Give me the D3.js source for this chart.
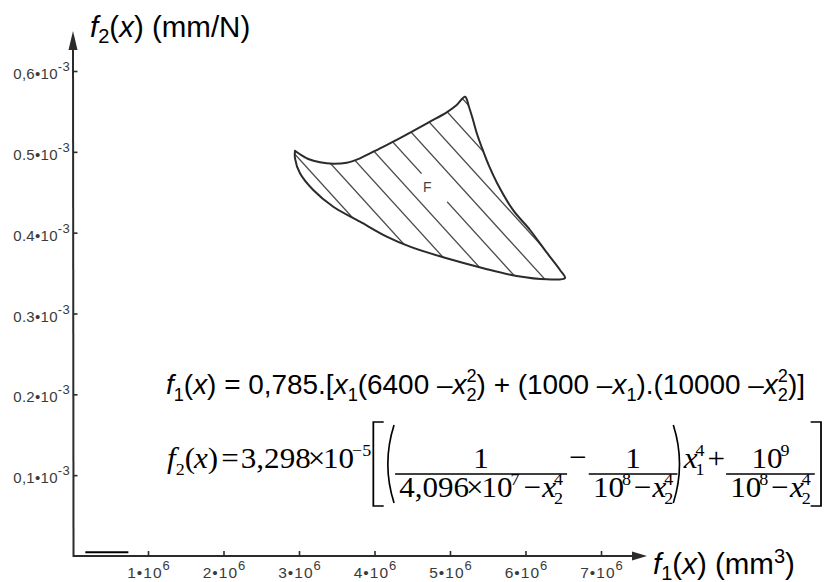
<!DOCTYPE html>
<html>
<head>
<meta charset="utf-8">
<script src="https://cdn.jsdelivr.net/npm/d3@7"></script>
<style>
  body { margin: 0; background: #fff; }
  svg { display: block; }
</style>
</head>
<body>
<svg id="chart" width="834" height="582"></svg>
<script>
// ---- axis ticks (f1 in 10^6 mm³, f2 in 10^-3 mm/N) ----
const f1Ticks = [1, 2, 3, 4, 5, 6, 7];
const f1TickText = ["1•10", "2•10", "3•10", "4•10", "5•10", "6•10", "7•10"];
const f1TickExp = "6";
const f2Ticks = [0.1, 0.2, 0.3, 0.4, 0.5, 0.6];
const f2TickText = ["0,1•10", "0.2•10", "0.3•10", "0.4•10", "0.5•10", "0,6•10"];
const f2TickExp = "-3";

// ---- boundary of the attainable set F, traced clockwise from the left tip ----
const boundaryF1 = [
  2.947, 3.013, 3.123, 3.278, 3.454, 3.632, 3.808, 4.073, 4.294, 4.514, 4.735, 4.956, 5.089, 5.199,
  5.252, 5.305, 5.358, 5.424, 5.517, 5.623, 5.834, 6.060, 6.285, 6.457, 6.523,
  6.285, 5.883, 5.441, 4.956, 4.470, 4.162, 3.808, 3.454, 3.189, 3.013, 2.947, 2.947
];
const boundaryF2 = [
  0.5014, 0.4970, 0.4911, 0.4870, 0.4853, 0.4866, 0.4920, 0.5044, 0.5147, 0.5258, 0.5373, 0.5489, 0.5580, 0.5682,
  0.5555, 0.5394, 0.5221, 0.5048, 0.4825, 0.4615, 0.4281, 0.4033, 0.3749, 0.3538, 0.3439,
  0.3423, 0.3464, 0.3560, 0.3683, 0.3827, 0.3951, 0.4136, 0.4321, 0.4528, 0.4735, 0.4920, 0.5014
];
// label of the set
const setLabel = { text: "F", f1: 4.70, f2: 0.4565 };
// short marker drawn on the f1 axis near the origin
const originMarkF1 = [0.17, 0.74];
const originMarkF2 = 0.004;

const svg = d3.select("#chart");
const ink = "#2b2b2b";

const x = d3.scaleLinear().domain([0, 7.5]).range([72.5, 638.75]);
const y = d3.scaleLinear().domain([0, 0.6]).range([556, 71]);

// ---- axes ----
const axes = svg.append("g");
const x0 = x(0), y0 = y(0);
axes.append("line").attr("x1", x0 + 1).attr("y1", y0).attr("x2", 640).attr("y2", y0)
  .attr("stroke", ink).attr("stroke-width", 2);
axes.append("path").attr("d", `M647,${y0} L632,${y0 - 4.5} L632,${y0 + 4.5} Z`).attr("fill", ink);
axes.append("line").attr("x1", x0 + 1).attr("y1", y0 + 1).attr("x2", x0 + 0.5).attr("y2", 45)
  .attr("stroke", ink).attr("stroke-width", 2);
axes.append("path").attr("d", `M${x0 + 0.5},31 L${x0 - 4},50 L${x0 + 5},50 Z`).attr("fill", ink);

// tick marks through d3 axes
const xAxis = d3.axisBottom(x).tickValues(f1Ticks).tickSize(-5).tickFormat("");
const gx = svg.append("g").attr("transform", `translate(0,${y0})`).call(xAxis);
gx.select(".domain").remove();
gx.selectAll(".tick line").attr("stroke", ink).attr("stroke-width", 1.6);

const yAxis = d3.axisLeft(y).tickValues(f2Ticks).tickSize(-4).tickFormat("");
const gy = svg.append("g").attr("transform", `translate(${x0 + 1},0)`).call(yAxis);
gy.select(".domain").remove();
gy.selectAll(".tick line").attr("stroke", ink).attr("stroke-width", 1.6);

// tick labels with exponents
const tickFont = "'Liberation Sans', Arial, sans-serif";
const xl = svg.append("g").attr("font-family", tickFont).attr("fill", "#3a3a3a");
f1Ticks.forEach((v, i) => {
  const t = xl.append("text").attr("x", x(v) + 1).attr("y", 578)
    .attr("text-anchor", "middle").attr("font-size", 15.5).attr("letter-spacing", 1);
  t.append("tspan").text(f1TickText[i]);
  t.append("tspan").attr("dy", -8).attr("font-size", 13).text(f1TickExp);
});
const yl = svg.append("g").attr("font-family", tickFont).attr("fill", "#3a3a3a");
f2Ticks.forEach((v, i) => {
  const t = yl.append("text").attr("x", 70).attr("y", y(v) + 8)
    .attr("text-anchor", "end").attr("font-size", 15).attr("letter-spacing", 0.3);
  t.append("tspan").text(f2TickText[i]);
  t.append("tspan").attr("dy", -8).attr("font-size", 13).text(f2TickExp);
});

// short marker on the f1 axis
svg.append("line")
  .attr("x1", x(originMarkF1[0])).attr("x2", x(originMarkF1[1]))
  .attr("y1", y(originMarkF2) - 0.5).attr("y2", y(originMarkF2) - 0.5)
  .attr("stroke", "#000").attr("stroke-width", 2);

// ---- axis titles ----
const titleFont = "'Liberation Sans', Arial, sans-serif";
function axisTitle(px, py, idx, unit, unitExp) {
  const t = svg.append("text").attr("x", px).attr("y", py)
    .attr("font-family", titleFont).attr("font-size", 29.5).attr("fill", "#000");
  t.append("tspan").attr("font-style", "italic").text("f");
  t.append("tspan").attr("dy", 6).attr("font-size", 20).text(idx);
  t.append("tspan").attr("dy", -6).text("(");
  t.append("tspan").attr("font-style", "italic").text("x");
  t.append("tspan").text(") (" + unit);
  if (unitExp) {
    t.append("tspan").attr("dy", -11).attr("font-size", 20).text(unitExp);
    t.append("tspan").attr("dy", 11).text(")");
  } else {
    t.append("tspan").text(")");
  }
}
axisTitle(90, 37, "2", "mm/N", null);
axisTitle(653, 574, "1", "mm", "3");

// ---- attainable set F ----
const pts = boundaryF1.map((v, i) => [x(v), y(boundaryF2[i])]);
const outline = d3.line().curve(d3.curveCatmullRom.alpha(0.5))(pts) + "Z";

const defs = svg.append("defs");
defs.append("clipPath").attr("id", "setClip").append("path").attr("d", outline);

// diagonal hatching, anchored to the label position
const lx = x(setLabel.f1), ly = y(setLabel.f2);
const slope = 1.1, step = 30;
const c0 = ly - 7 - slope * lx;
const hatch = svg.append("g").attr("clip-path", "url(#setClip)");
d3.range(-4, 5).forEach(k => {
  const c = c0 + k * step;
  hatch.append("line")
    .attr("x1", 250).attr("y1", slope * 250 + c)
    .attr("x2", 620).attr("y2", slope * 620 + c)
    .attr("stroke", "#4a4a4a").attr("stroke-width", 1.3);
});
// opening in the hatch line next to the label
const gapX = lx + 7, gapY = slope * (lx + 7) + c0;
svg.append("rect")
  .attr("x", -19).attr("y", -3.5).attr("width", 38).attr("height", 7)
  .attr("fill", "#fff")
  .attr("transform", `translate(${gapX},${gapY}) rotate(${Math.atan(slope) * 180 / Math.PI})`);
svg.append("text").attr("x", lx).attr("y", ly + 5)
  .attr("text-anchor", "middle").attr("font-family", tickFont).attr("font-size", 14)
  .attr("fill", "#444").text(setLabel.text);

svg.append("path").attr("d", outline)
  .attr("fill", "none").attr("stroke", ink).attr("stroke-width", 2).attr("stroke-linejoin", "round");

// ---- formulas ----
// simple horizontal flow layout for formula pieces
function flow(g, family, size) {
  const f = { x: 0 };
  f.txt = (s, o = {}) => {
    const t = g.append("text")
      .attr("x", f.x + (o.dx || 0)).attr("y", o.dy || 0)
      .attr("font-family", family).attr("font-size", size * (o.scale || 1))
      .attr("font-style", o.it ? "italic" : "normal").attr("fill", "#000")
      .text(s);
    const w = t.node().getComputedTextLength();
    if (!o.hold) f.x += w + (o.dx || 0) + (o.after || 0);
    return w;
  };
  return f;
}

// f1(x)
const sans = "'Liberation Sans', Arial, sans-serif";
const S1 = 28;
const g1 = svg.append("g");
const a = flow(g1, sans, S1);
const sub1 = { scale: 0.65, dy: 7 }, sup1 = { scale: 0.65, dy: -12 };
a.txt("f", { it: true }); a.txt("1", sub1); a.txt("("); a.txt("x", { it: true }); a.txt(") = 0,785.[");
a.txt("x", { it: true }); a.txt("1", sub1); a.txt("(6400 – ");
a.txt("x", { it: true }); a.txt("2", { ...sub1, hold: true }); a.txt("2", sup1);
a.txt(") + (1000 – "); a.txt("x", { it: true }); a.txt("1", sub1); a.txt(").(10000 – ");
a.txt("x", { it: true }); a.txt("2", { ...sub1, hold: true }); a.txt("2", sup1); a.txt(")]");
const w1 = a.x;
g1.attr("transform", `translate(166,394) scale(${(805 - 166) / w1},1)`);

// f2(x)
const serif = "'Liberation Serif', 'Times New Roman', serif";
const S2 = 30;
const g2 = svg.append("g");
const b = flow(g2, serif, S2);
const barY = 6;                        // fraction bar relative to the main baseline
const numBase = barY - 6, denBase = barY + 23;
const sub2 = { scale: 0.58, dy: 7 }, sup2 = { scale: 0.58, dy: -12 };

function bracketSquare(g, x0, top, bot, open) {
  const w = 10, d = open ? 1 : -1;
  g.append("path").attr("d", `M${x0 + d * w},${top} L${x0},${top} L${x0},${bot} L${x0 + d * w},${bot}`)
    .attr("fill", "none").attr("stroke", "#000").attr("stroke-width", 1.7);
}
function bracketRound(g, x0, top, bot, open) {
  const d = open ? 1 : -1, mid = (top + bot) / 2;
  g.append("path")
    .attr("d", `M${x0 + d * 8},${top} Q${x0 - d * 4},${mid} ${x0 + d * 8},${bot}`)
    .attr("fill", "none").attr("stroke", "#000").attr("stroke-width", 1.6);
}
function frac(numBuild, denBuild, pad) {
  const fg = g2.append("g");
  const ng = fg.append("g"), dg = fg.append("g");
  const nf = flow(ng, serif, S2), df = flow(dg, serif, S2);
  numBuild(nf); denBuild(df);
  const w = Math.max(nf.x, df.x) + 2 * pad;
  ng.attr("transform", `translate(${b.x + (w - nf.x) / 2},${numBase})`);
  dg.attr("transform", `translate(${b.x + (w - df.x) / 2},${denBase})`);
  fg.append("line").attr("x1", b.x).attr("x2", b.x + w).attr("y1", barY).attr("y2", barY)
    .attr("stroke", "#000").attr("stroke-width", 1.4);
  b.x += w;
}
const denX24 = f => { f.txt("x", { it: true, after: -2 }); f.txt("2", { ...sub2, hold: true }); f.txt("4", sup2); };

b.txt("f", { it: true }); b.txt("2", sub2); b.txt("(", { after: -1 }); b.txt("x", { it: true }); b.txt(")", { after: 3 });
b.txt("=", { after: 2 });
b.txt("3,298", { after: -3 }); b.txt("×", { after: -2 }); b.txt("10", { after: -2 }); b.txt("−5", { ...sup2, after: 1 });
const brTop = barY - 52, brBot = barY + 32;
bracketSquare(g2, b.x + 1, brTop, brBot, true); b.x += 11;
bracketRound(g2, b.x + 2, brTop + 3, brBot - 3, true); b.x += 11;
frac(f => f.txt("1"),
     f => { f.txt("4,096", { after: -3 }); f.txt("×", { after: -2 }); f.txt("10", { after: -2 }); f.txt("7", { ...sup2, after: 4 }); f.txt("−", { after: 1 }); denX24(f); }, 4);
b.txt("−", { dx: 2, after: 2, dy: -1 });
frac(f => f.txt("1"),
     f => { f.txt("10", { after: -2 }); f.txt("8", { ...sup2, after: 3 }); f.txt("−", { after: 1 }); denX24(f); }, 4);
bracketRound(g2, b.x + 4, brTop + 3, brBot - 3, false); b.x += 6;
b.txt("x", { it: true, after: -2 }); b.txt("1", { ...sub2, hold: true }); b.txt("4", { ...sup2, after: 3 });
b.txt("+", { after: 1 });
frac(f => { f.txt("10", { after: -2 }); f.txt("9", sup2); },
     f => { f.txt("10", { after: -2 }); f.txt("8", { ...sup2, after: 3 }); f.txt("−", { after: 1 }); denX24(f); }, 4);
b.x += 6;
bracketSquare(g2, b.x, brTop, brBot, false);
const w2 = b.x;
g2.attr("transform", `translate(167,468) scale(${(821 - 167) / w2},1)`);
</script>
</body>
</html>
